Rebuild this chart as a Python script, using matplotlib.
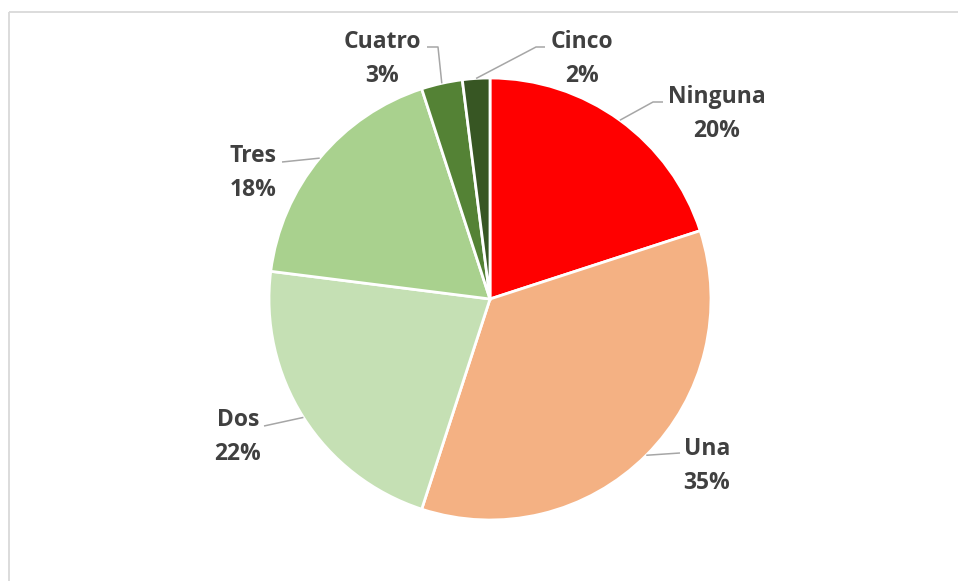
import matplotlib.pyplot as plt
import numpy as np

# Número de respuestas por categoría (porcentaje)
categorias = ['Ninguna', 'Una', 'Dos', 'Tres', 'Cuatro', 'Cinco']
valores = [20, 35, 22, 18, 3, 2]
colores = ['#FF0000', '#F4B183', '#C5E0B4', '#A9D18E', '#548235', '#375623']

W, H = 958, 581
CX, CY, R = 490, H - 299, 221

# Label centres and leader elbows, in pixel coordinates (y from top)
label_pos = [(717, 114), (707, 466), (238, 437), (253, 173), (382, 59), (582, 59)]
elbows = [[(653, 102), (663, 102)],
          [(680, 453)],
          [(264, 426)],
          [(282, 162)],
          [(438, 47), (427, 47)],
          [(536, 47), (545, 47)]]

fig = plt.figure(figsize=(W / 100, H / 100), dpi=100)
ax = fig.add_axes([0, 0, 1, 1])

# chart border (top and left only visible)
ax.plot([9.5, W], [H - 11.5, H - 11.5], color='#D9D9D9', lw=1.3, solid_capstyle='butt')
ax.plot([9.5, 9.5], [H - 11.5, 0], color='#D9D9D9', lw=1.3, solid_capstyle='butt')

wedges, _ = ax.pie(valores, colors=colores, startangle=90, counterclock=False,
                   center=(CX, CY), radius=R, frame=True,
                   wedgeprops=dict(edgecolor='white', linewidth=2))
ax.set_xlim(0, W)
ax.set_ylim(0, H)
ax.set_aspect('equal')
ax.axis('off')

for w, cat, val, (lx, ly), pts in zip(wedges, categorias, valores, label_pos, elbows):
    mid = np.deg2rad((w.theta1 + w.theta2) / 2)
    sx, sy = CX + R * np.cos(mid), CY + R * np.sin(mid)
    xs = [sx] + [p[0] for p in pts]
    ys = [sy] + [H - p[1] for p in pts]
    ax.plot(xs, ys, color='#A6A6A6', lw=1.1, solid_capstyle='butt')
    ax.text(lx, H - ly, f'{cat}\n{val}%', ha='center', va='center',
            fontsize=16.5, fontweight='bold', family='Open Sans', color='#404040',
            linespacing=1.55)

fig.savefig('out.png', dpi=100)
